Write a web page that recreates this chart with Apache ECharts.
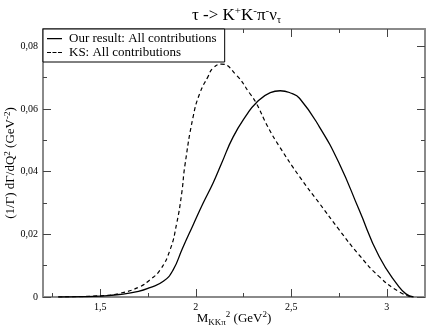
<!DOCTYPE html>
<html>
<head>
<meta charset="utf-8">
<script src="https://cdn.jsdelivr.net/npm/echarts@6/dist/echarts.min.js"></script>
<style>
  html, body { margin: 0; padding: 0; background: #fff; }
  #chart { width: 426px; height: 334px; }
</style>
</head>
<body>
<div id="chart"></div>
<script>
// M_KKpi^2 (GeV^2) vs (1/Gamma) dGamma/dQ^2
var ourResult = [
  [1.28, 0], [1.40, 0.0001], [1.50, 0.0003], [1.60, 0.0008], [1.70, 0.0018],
  [1.76, 0.0030], [1.83, 0.0050], [1.88, 0.0085], [1.93, 0.0155], [1.986, 0.0230],
  [2.038, 0.0299], [2.09, 0.0363], [2.134, 0.0425], [2.195, 0.0510], [2.265, 0.0580],
  [2.317, 0.0620], [2.39, 0.0652], [2.442, 0.0658], [2.50, 0.0650], [2.543, 0.0634],
  [2.647, 0.0543], [2.751, 0.0426], [2.855, 0.0278], [2.96, 0.0129], [3.063, 0.0033],
  [3.10, 0.0010], [3.14, 0]
];
var ksResult = [
  [1.28, 0], [1.50, 0.0004], [1.604, 0.0012], [1.708, 0.0033], [1.76, 0.0055],
  [1.813, 0.0086], [1.865, 0.0150], [1.90, 0.0235], [1.926, 0.0330], [1.943, 0.0420],
  [1.986, 0.0575], [2.021, 0.0650], [2.064, 0.0703], [2.09, 0.0730], [2.134, 0.0743],
  [2.212, 0.0708], [2.282, 0.0650], [2.317, 0.0618], [2.377, 0.0543], [2.438, 0.0480],
  [2.543, 0.0384], [2.647, 0.0299], [2.751, 0.0214], [2.855, 0.0134], [2.96, 0.0065],
  [3.063, 0.0017], [3.13, 0]
];
var seriesNames = ['Our result: All contributions', 'KS: All contributions'];
var xMajor = [1.5, 2, 2.5, 3];
var xMinor = [1.25, 1.75, 2.25, 2.75];
var yMajor = [0, 0.02, 0.04, 0.06, 0.08];
var yMinor = [0.01, 0.03, 0.05, 0.07];

var serif = 'Liberation Serif';
var axisGrey = '#8a8a8a';
var tickCol = '#444';

// legend keys: thin line shapes, with tiny corner specks so the icon is not stretched
var solidKey = 'path://M0,0H0.01V0.01H0Z M0,5.4H15V6.7H0Z M0,12H0.01V12.01H0Z';
var dashKey = 'path://M0,0H0.01V0.01H0Z M0,5.5H4V6.6H0Z M5.5,5.5H9.5V6.6H5.5Z M11,5.5H15V6.6H11Z M0,12H0.01V12.01H0Z';

function comma(v) {
  return String(+v.toFixed(4)).replace('.', ',');
}

function xAx(pos, ticks, len, showLine, showLabel) {
  return {
    type: 'value', position: pos, min: 1.2, max: 3.2,
    axisLine: { show: showLine, onZero: false, lineStyle: { color: axisGrey, width: 2 } },
    axisTick: { show: true, inside: true, length: len, customValues: ticks,
      lineStyle: { color: tickCol, width: 1 } },
    axisLabel: { show: showLabel, customValues: xMajor, formatter: comma, margin: 5,
      fontFamily: serif, fontSize: 10, color: '#000' },
    splitLine: { show: false }
  };
}
function yAx(pos, ticks, len, showLine, showLabel) {
  return {
    type: 'value', position: pos, min: 0, max: 0.0855,
    axisLine: { show: showLine, onZero: false, lineStyle: { color: axisGrey, width: 2 } },
    axisTick: { show: true, inside: true, length: len, customValues: ticks,
      lineStyle: { color: tickCol, width: 1 } },
    axisLabel: { show: showLabel, customValues: yMajor, formatter: comma, margin: 5,
      fontFamily: serif, fontSize: 10, color: '#000' },
    splitLine: { show: false }
  };
}

var xMainAxis = xAx('bottom', xMajor, 8, true, true);
xMainAxis.name = 'M{sub|KKπ}{sup|2} (GeV{sup|2})';
xMainAxis.nameLocation = 'middle';
xMainAxis.nameGap = 13;
xMainAxis.nameMoveOverlap = false;
xMainAxis.nameTextStyle = {
  fontFamily: serif, fontSize: 13, color: '#000',
  rich: {
    sub: { fontFamily: serif, fontSize: 9, verticalAlign: 'bottom', padding: [8, 0, 0, 0] },
    sup: { fontFamily: serif, fontSize: 9, verticalAlign: 'top', padding: [0, 0, 6, 0] }
  }
};

var yMainAxis = yAx('left', yMajor, 8, true, true);
yMainAxis.name = '(1/Γ) dΓ/dQ{sup|2} (GeV{sup|-2})';
yMainAxis.nameLocation = 'middle';
yMainAxis.nameGap = 25;
yMainAxis.nameMoveOverlap = false;
yMainAxis.nameTextStyle = {
  fontFamily: serif, fontSize: 13, color: '#000',
  rich: {
    sup: { fontFamily: serif, fontSize: 9, verticalAlign: 'top', padding: [0, 0, 6, 0] }
  }
};

var chart = echarts.init(document.getElementById('chart'));
chart.setOption({
  animation: false,
  backgroundColor: '#fff',
  title: {
    text: 'τ -> K{sup|+}K{sup|-}π{sup|-}ν{sub|τ}',
    left: 187, top: 1,
    textStyle: {
      fontFamily: serif, fontSize: 17, fontWeight: 'normal', color: '#000',
      rich: {
        sup: { fontFamily: serif, fontSize: 11, verticalAlign: 'top', padding: [0, 0, 8, 0] },
        sub: { fontFamily: serif, fontSize: 10, verticalAlign: 'bottom', padding: [8, 0, 0, 0] }
      }
    }
  },
  legend: {
    orient: 'vertical', left: 43, top: 29,
    padding: [3, 8, 3, 4],
    itemWidth: 15, itemHeight: 12, itemGap: 1,
    backgroundColor: '#fff',
    borderColor: '#000', borderWidth: 1, borderRadius: 0,
    textStyle: { fontFamily: serif, fontSize: 13, color: '#000', padding: [0, 0, 0, 2] },
    data: [
      { name: seriesNames[0], icon: solidKey },
      { name: seriesNames[1], icon: dashKey }
    ]
  },
  grid: { left: 43, right: 1, top: 29, bottom: 37, containLabel: false, outerBoundsMode: 'none' },
  xAxis: [
    xMainAxis,
    xAx('bottom', xMinor, 4, false, false),
    xAx('top', xMajor, 8, true, false),
    xAx('top', xMinor, 4, false, false)
  ],
  yAxis: [
    yMainAxis,
    yAx('left', yMinor, 4, false, false),
    yAx('right', yMajor, 8, true, false),
    yAx('right', yMinor, 4, false, false)
  ],
  series: [
    {
      name: seriesNames[0], type: 'line', data: ourResult,
      xAxisIndex: 0, yAxisIndex: 0,
      smooth: 0.5, showSymbol: false, symbol: 'none',
      lineStyle: { color: '#000', width: 1.3, type: 'solid' },
      itemStyle: { color: '#000' }, z: 3
    },
    {
      name: seriesNames[1], type: 'line', data: ksResult,
      xAxisIndex: 0, yAxisIndex: 0,
      smooth: 0.5, showSymbol: false, symbol: 'none',
      lineStyle: { color: '#000', width: 1.2, type: [4, 3] },
      itemStyle: { color: '#000' }, z: 3
    }
  ]
});
</script>
</body>
</html>
